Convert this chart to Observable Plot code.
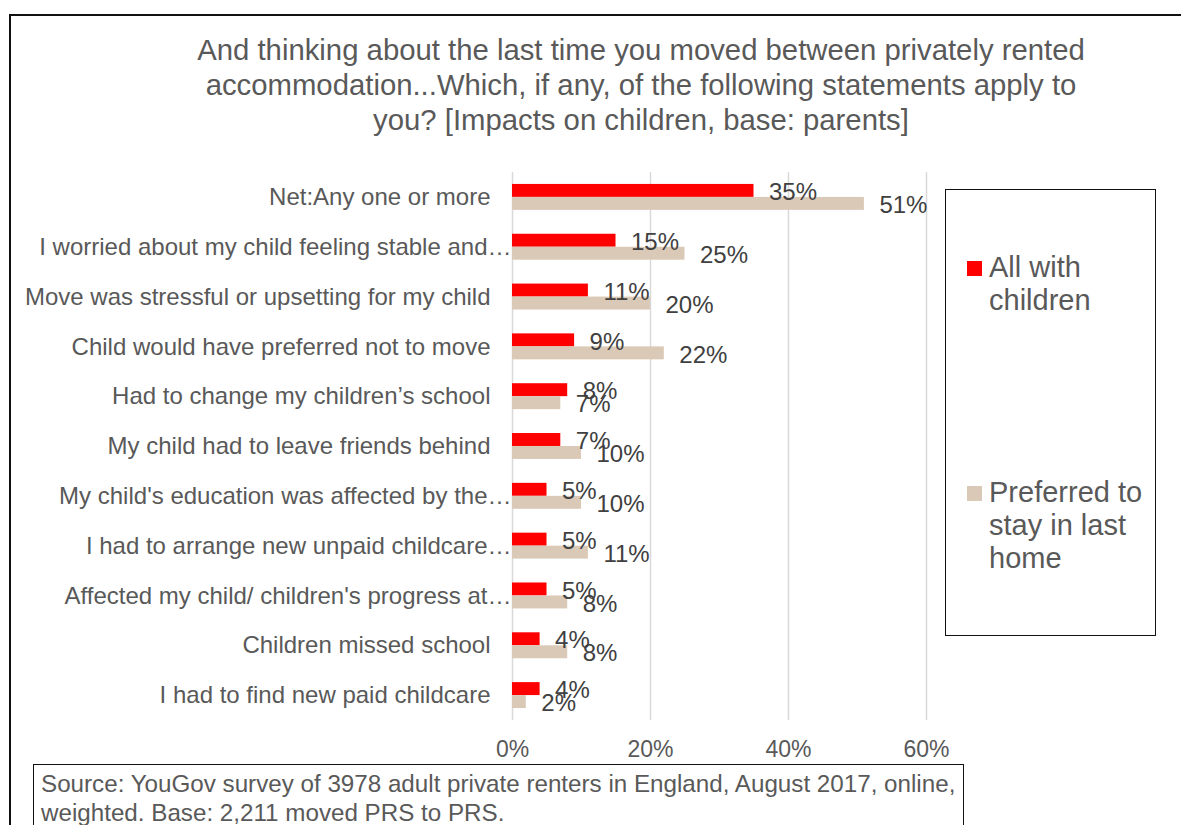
<!DOCTYPE html>
<html>
<head>
<meta charset="utf-8">
<script src="https://cdn.jsdelivr.net/npm/d3@7"></script>
<script src="https://cdn.jsdelivr.net/npm/@observablehq/plot@0.6"></script>
<style>
  html, body { margin: 0; padding: 0; background: #fff; }
  body { width: 1181px; height: 825px; overflow: hidden; position: relative; font-family: "Liberation Sans", Arial, sans-serif; }
  .frame { position: absolute; left: 9px; top: 14px; width: 1300px; height: 900px; border: 2px solid #111; box-sizing: border-box; }
  .title { position: absolute; left: 141px; top: 32px; width: 1000px; text-align: center; font-size: 29.3px; line-height: 35px; color: #595959; }
  .legend { position: absolute; left: 945px; top: 189px; width: 211px; height: 447px; border: 1.5px solid #111; box-sizing: border-box; background: #fff; }
  .sw { position: absolute; width: 15px; height: 15px; }
  .lt { position: absolute; left: 989px; font-size: 29px; line-height: 33px; color: #595959; white-space: nowrap; }
  .source { position: absolute; left: 33px; top: 764px; width: 931px; height: 120px; border: 1.5px solid #111; box-sizing: border-box; background: #fff; padding: 4px 0 0 7px; font-size: 24.2px; line-height: 29px; color: #595959; white-space: nowrap; }
  #chart svg { position: absolute; left: 0; top: 150px; overflow: visible; }
</style>
</head>
<body>
<div class="frame"></div>
<div class="title">And thinking about the last time you moved between privately rented<br>accommodation...Which, if any, of the following statements apply to<br>you? [Impacts on children, base: parents]</div>
<div id="chart"></div>
<div class="legend"></div>
<div id="legendItems"></div>
<div class="source">Source: YouGov survey of 3978 adult private renters in England, August 2017, online,<br>weighted. Base: 2,211 moved PRS to PRS.</div>
<script>
// ---- data ----
const categories = [
  "Net:Any one or more",
  "I worried about my child feeling stable and…",
  "Move was stressful or upsetting for my child",
  "Child would have preferred not to move",
  "Had to change my children’s school",
  "My child had to leave friends behind",
  "My child's education was affected by the…",
  "I had to arrange new unpaid childcare…",
  "Affected my child/ children's progress at…",
  "Children missed school",
  "I had to find new paid childcare"
];
const allWithChildren = [35, 15, 11, 9, 8, 7, 5, 5, 5, 4, 4];
const preferredToStay = [51, 25, 20, 22, 7, 10, 10, 11, 8, 8, 2];
const seriesNames = ["All with\nchildren", "Preferred to\nstay in last\nhome"];
const xTicks = [0, 20, 40, 60];

// ---- styles ----
const RED = "#ff0000";
const BEIGE = "#dbc9b7";
const FONT = "'Liberation Sans', Arial, sans-serif";

const rows = categories.map((c, i) => ({category: c, all: allWithChildren[i], pref: preferredToStay[i], truncated: c.endsWith("…")}));

const chart = Plot.plot({
  width: 940,
  height: 620,
  marginLeft: 512,
  marginRight: 14,
  marginTop: 22,
  marginBottom: 50,
  style: {fontFamily: FONT, fontSize: "23px", color: "#595959", background: "transparent"},
  x: {domain: [0, 60], ticks: xTicks, tickFormat: d => d + "%", tickSize: 0, tickPadding: 20, label: null},
  y: {domain: categories, paddingInner: 0.74, paddingOuter: 0.37, round: false, axis: null},
  marks: [
    Plot.ruleX(xTicks, {stroke: "#d9d9d9", strokeWidth: 1.5}),
    Plot.barX(rows, {x: "all", y: "category", fill: RED, dy: -6.5}),
    Plot.barX(rows, {x: "pref", y: "category", fill: BEIGE, dy: 6.5}),
    Plot.text(rows, {x: "all", y: "category", text: d => d.all + "%", dx: 15, dy: -5, textAnchor: "start", fill: "#404040", fontSize: 24}),
    Plot.text(rows, {x: "pref", y: "category", text: d => d.pref + "%", dx: 15, dy: 8, textAnchor: "start", fill: "#404040", fontSize: 24}),
    Plot.text(rows.filter(d => !d.truncated), {y: "category", text: "category", frameAnchor: "left", textAnchor: "end", dx: -22, fill: "#595959", fontSize: 24}),
    Plot.text(rows.filter(d => d.truncated), {y: "category", text: "category", frameAnchor: "left", textAnchor: "end", dx: -1, fill: "#595959", fontSize: 24})
  ]
});
document.getElementById("chart").appendChild(chart);

// ---- legend ----
const legendPos = [{sw: 261, text: 251}, {sw: 486, text: 476}];
const legendColors = [RED, BEIGE];
const li = document.getElementById("legendItems");
seriesNames.forEach((name, i) => {
  const sw = document.createElement("div");
  sw.className = "sw";
  sw.style.left = "967px";
  sw.style.top = legendPos[i].sw + "px";
  sw.style.background = legendColors[i];
  li.appendChild(sw);
  const t = document.createElement("div");
  t.className = "lt";
  t.style.top = legendPos[i].text + "px";
  t.innerHTML = name.split("\n").join("<br>");
  li.appendChild(t);
});
</script>
</body>
</html>
